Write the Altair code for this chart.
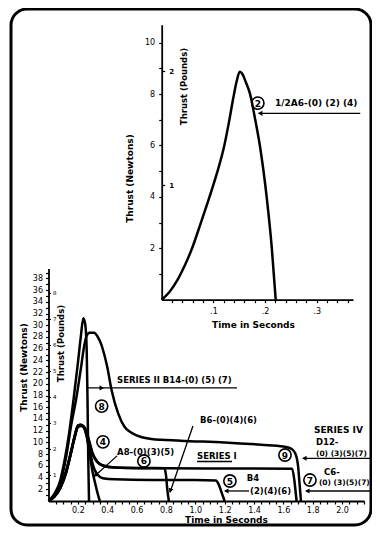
import altair as alt
import pandas as pd

LB = 4.448  # newtons per pound
FONT = "DejaVu Sans"

# ---------------- top chart: 1/2A6 ----------------
a6_t = [0, 0.015, 0.03, 0.045, 0.058, 0.075, 0.092, 0.108, 0.12, 0.13, 0.138, 0.145, 0.151,
        0.157, 0.163, 0.171, 0.18, 0.19, 0.203, 0.213, 0.2205]
a6_n = [0, 0.3, 0.75, 1.35, 1.96, 2.95, 3.97, 5.0, 5.9, 6.9, 7.8, 8.5, 8.87,
        8.75, 8.45, 8.0, 7.1, 5.98, 4.0, 2.0, 0]

# ---------------- bottom chart ----------------
b14_t = [0, 0.04, 0.08, 0.11, 0.14, 0.17, 0.2, 0.22, 0.237, 0.25, 0.26, 0.266, 0.271, 0.276]
b14_n = [0, 1.2, 3.5, 7, 11.5, 17.2, 23.5, 28, 31.2, 30.2, 26, 17, 7, 0]

d12_t = [0, 0.04, 0.08, 0.12, 0.155, 0.187, 0.22, 0.24, 0.26, 0.28, 0.31, 0.34, 0.36, 0.38,
         0.4, 0.43, 0.475, 0.52, 0.555, 0.6, 0.7, 0.9, 1.2, 1.45, 1.6, 1.65, 1.68, 1.7, 1.71, 1.72]
d12_n = [0, 1.0, 3.0, 7.5, 13, 17.2, 22.5, 26.0, 28.2, 28.7, 28.7, 27.8, 26.7, 25,
         22.9, 18.9, 14.9, 12.6, 11.8, 11.2, 10.6, 10.3, 10.0, 9.6, 9.3, 9.0, 8.2, 6, 3, 0]

a8_t = [0, 0.04, 0.08, 0.12, 0.15, 0.18, 0.2, 0.22, 0.24, 0.26, 0.28, 0.3, 0.32, 0.34, 0.35]
a8_n = [0, 0.8, 2.3, 5.0, 8.0, 11.2, 12.8, 13.0, 12.6, 11.0, 8.0, 5.0, 2.8, 0.8, 0]

b4_t = [0, 0.04, 0.08, 0.12, 0.15, 0.18, 0.2, 0.22, 0.24, 0.26, 0.28, 0.3, 0.33, 0.37, 0.45,
        0.7, 1.0, 1.14, 1.16, 1.18, 1.2]
b4_n = [0, 0.8, 2.2, 4.8, 7.8, 11.0, 12.6, 12.8, 12.6, 11.2, 8.8, 6.4, 4.6, 3.9, 3.7,
        3.6, 3.6, 3.5, 2.8, 1.4, 0]

b6_t = [0, 0.04, 0.08, 0.12, 0.15, 0.18, 0.2, 0.22, 0.24, 0.26, 0.28, 0.3, 0.33, 0.37, 0.45,
        0.6, 0.79, 0.8, 0.81, 0.82]
b6_n = [0, 0.8, 2.4, 5.1, 8.1, 11.3, 12.9, 13.0, 12.7, 11.6, 9.8, 8.0, 6.7, 6.0, 5.7,
        5.6, 5.6, 4.5, 1.8, 0]

c6_t = [0, 0.04, 0.08, 0.12, 0.15, 0.18, 0.2, 0.22, 0.24, 0.26, 0.28, 0.3, 0.33, 0.37, 0.45,
        0.8, 1.2, 1.66, 1.675, 1.685, 1.69]
c6_n = [0, 0.7, 2.2, 4.9, 7.9, 11.1, 12.7, 12.9, 12.7, 11.8, 10, 8.2, 6.8, 6.1, 5.7,
        5.6, 5.55, 5.5, 3.5, 1.2, 0]

# annotations (data coordinates)
top_text = ["1/2A6-(0) (2) (4)"]
top_text_t = [0.219]
top_text_n = [7.65]
top_circ = ["2"]
top_circ_t = [0.186]
top_circ_n = [7.65]

bot_text = ["SERIES II B14-(0) (5) (7)", "A8-(0)(3)(5)", "B6-(0)(4)(6)", "SERIES I",
            "B4", "(2)(4)(6)", "D12-", "C6-"]
bot_text_t = [0.467, 0.467, 1.032, 1.012, 1.35, 1.373, 1.822, 1.877]
bot_text_n = [20.65, 8.36, 13.8, 7.68, 3.87, 1.71, 10.07, 4.9]

side_text = ["SERIES IV", "(0) (3)(5)(7)", "(0) (3)(5)(7)"]
side_text_t = [1.808, 1.822, 1.842]
side_text_n = [12.1, 8.1, 3.1]

bot_circ = ["8", "4", "6", "9", "7", "5"]
bot_circ_t = [0.362, 0.371, 0.65, 1.611, 1.781, 1.236]
bot_circ_n = [16.2, 10.1, 6.83, 7.85, 3.58, 3.41]

# leader lines
top_lead = dict(t1=[0.187], t2=[0.384], n1=[7.25], n2=[7.25])
bot_lead = dict(t1=[0.269, 0.467, 0.984, 1.012, 1.734, 1.754, 1.202],
                t2=[1.284, 0.317, 0.828, 1.25, 2.197, 2.197, 1.366],
                n1=[19.3, 7.7, 12.8, 6.74, 7.29, 1.71, 1.71],
                n2=[19.3, 4.3, 1.5, 6.74, 7.29, 1.71, 1.71])
top_head = dict(t=[0.192], n=[7.25], ang=[270])
bot_head = dict(t=[0.358, 0.322, 0.832, 1.748, 1.768, 1.216],
                n=[19.3, 4.45, 1.9, 7.29, 1.71, 1.71],
                ang=[90, 228, 199, 270, 270, 270])

# ---------------- scales ----------------
W, H = 360, 516
top_xs = alt.Scale(domain=[0, 0.37], range=[150.7, 342.0], nice=False, zero=False)
top_ys = alt.Scale(domain=[0, 10.7], range=[290.7, 15.7], nice=False, zero=False)
bot_xs = alt.Scale(domain=[0, 2.15], range=[37.5, 353.1], nice=False, zero=False)
bot_ys = alt.Scale(domain=[0, 39.7], range=[492.0, 259.4], nice=False, zero=False)

common = dict(labelFont=FONT, titleFont=FONT, labelColor="black", titleColor="black",
              domainColor="black", tickColor="black", grid=False, labelOverlap=False,
              labelFlush=False, titleFontWeight="bold", titleAlign="center",
              titleBaseline="middle")

top_x_axis = alt.Axis(orient="bottom", offset=-(H - 290.7),
                      values=[round(0.02 * i, 2) for i in range(1, 19)],
                      labelExpr="abs(datum.value*10 - round(datum.value*10)) < 0.001 ? '.' + round(datum.value*10) : ''",
                      title="Time in Seconds", titleX=242, titleY=24.3, titleFontSize=9,
                      labelFontSize=8, labelPadding=5, tickSize=3, tickWidth=1.2,
                      domainWidth=1.8, **common)
top_y_axis = alt.Axis(orient="left", offset=-150.7, values=list(range(1, 11)),
                      labelExpr="datum.value % 2 == 0 ? '' + datum.value : ''",
                      title="Thrust (Newtons)", titleAngle=270, titleX=-32.7, titleY=169,
                      titleFontSize=9, labelFontSize=8, labelPadding=4, tickSize=3,
                      tickWidth=1.2, domainWidth=1.8, **common)
top_lb_axis = alt.Axis(orient="right", offset=-(W - 150.7), values=[LB, 2 * LB],
                       labelExpr="'' + round(datum.value/4.448)", domain=False,
                       title="Thrust (Pounds)", titleAngle=270, titleX=21.6, titleY=77,
                       titleFontSize=8.5, labelFontSize=7, labelFontWeight="bold",
                       labelPadding=4, tickSize=3, tickWidth=1.2, **common)

bot_x_axis = alt.Axis(orient="bottom", offset=-(H - 492.0),
                      values=[round(0.05 * i, 2) for i in range(1, 44)],
                      labelExpr="abs(datum.value*5 - round(datum.value*5)) < 0.001 ? format(datum.value, '.1f') : ''",
                      title="Time in Seconds", titleX=215, titleY=18, titleFontSize=9,
                      labelFontSize=8, labelPadding=2, tickSize=3, tickWidth=1.2,
                      domainWidth=1.8, **common)
bot_y_axis = alt.Axis(orient="left", offset=-37.5, values=list(range(1, 40)),
                      labelExpr="datum.value % 2 == 0 ? '' + datum.value : ''",
                      title="Thrust (Newtons)", titleAngle=270, titleX=-25.5, titleY=358,
                      titleFontSize=9, labelFontSize=8, labelPadding=3, tickSize=3,
                      tickWidth=1.2, domainWidth=1.8, **common)
bot_lb_axis = alt.Axis(orient="right", offset=-(W - 37.5), values=[LB * k for k in range(1, 9)],
                       labelExpr="'' + round(datum.value/4.448)", domain=False,
                       title="Thrust (Pounds)", titleAngle=270, titleX=11.5, titleY=334,
                       titleFontSize=8.5, labelFontSize=5.5, labelPadding=2, tickSize=2,
                       tickWidth=1, **common)


def curves(names, ts, ns):
    rows = []
    for name, t, n in zip(names, ts, ns):
        for i, (a, b) in enumerate(zip(t, n)):
            rows.append({"motor": name, "t": a, "n": b, "i": i})
    return pd.DataFrame(rows)


def build(curve_df, xs, ys, xaxis, yaxis, lbaxis, lbvals, texts, side, circs, leads, heads):
    line = alt.Chart(curve_df).mark_line(color="black", strokeWidth=2.5, interpolate="monotone").encode(
        x=alt.X("t:Q", scale=xs, axis=xaxis),
        y=alt.Y("n:Q", scale=ys, axis=yaxis),
        detail="motor:N", order="i:Q")
    lbl = alt.Chart(pd.DataFrame({"n": lbvals})).mark_point(opacity=0).encode(
        y=alt.Y("n:Q", scale=ys, axis=lbaxis))
    X = lambda f: alt.X(f, scale=xs, axis=None)
    Y = lambda f: alt.Y(f, scale=ys, axis=None)
    layers = [line, lbl]
    layers.append(alt.Chart(pd.DataFrame(leads)).mark_rule(color="black", strokeWidth=1.3).encode(
        x=X("t1:Q"), x2="t2:Q", y=Y("n1:Q"), y2="n2:Q"))
    layers.append(alt.Chart(pd.DataFrame(heads)).mark_point(shape="triangle", filled=True, color="black",
                                                             size=26, opacity=1).encode(
        x=X("t:Q"), y=Y("n:Q"), angle=alt.Angle("ang:Q", scale=None)))
    txt_df, txt_size = texts
    layers.append(alt.Chart(txt_df).mark_text(align="left", baseline="middle", font=FONT,
                                              fontWeight="bold", fontSize=txt_size, color="black").encode(
        x=X("t:Q"), y=Y("n:Q"), text="label:N"))
    if side is not None:
        sdf = side
        layers.append(alt.Chart(sdf.iloc[:1]).mark_text(align="left", baseline="middle", font=FONT,
                                                        fontWeight="bold", fontSize=9, color="black").encode(
            x=X("t:Q"), y=Y("n:Q"), text="label:N"))
        layers.append(alt.Chart(sdf.iloc[1:]).mark_text(align="left", baseline="middle", font=FONT,
                                                        fontWeight="bold", fontSize=7.5, color="black").encode(
            x=X("t:Q"), y=Y("n:Q"), text="label:N"))
    layers.append(alt.Chart(circs).mark_point(shape="circle", size=150, filled=False, color="black",
                                              strokeWidth=1.6, opacity=1).encode(x=X("t:Q"), y=Y("n:Q")))
    layers.append(alt.Chart(circs).mark_text(align="center", baseline="middle", font=FONT, fontWeight="bold",
                                             fontSize=9, color="black", dy=0.5).encode(
        x=X("t:Q"), y=Y("n:Q"), text="label:N"))
    return alt.layer(*layers).resolve_axis(x="independent", y="independent")


top = build(curves(["1/2A6"], [a6_t], [a6_n]), top_xs, top_ys, top_x_axis, top_y_axis, top_lb_axis,
            [LB, 2 * LB],
            (pd.DataFrame({"label": top_text, "t": top_text_t, "n": top_text_n}), 9),
            None,
            pd.DataFrame({"label": top_circ, "t": top_circ_t, "n": top_circ_n}),
            top_lead, top_head)

bottom = build(curves(["B14", "D12", "A8", "B4", "B6", "C6"],
                      [b14_t, d12_t, a8_t, b4_t, b6_t, c6_t],
                      [b14_n, d12_n, a8_n, b4_n, b6_n, c6_n]),
               bot_xs, bot_ys, bot_x_axis, bot_y_axis, bot_lb_axis, [LB * k for k in range(1, 9)],
               (pd.DataFrame({"label": bot_text, "t": bot_text_t, "n": bot_text_n}), 8.5),
               pd.DataFrame({"label": side_text, "t": side_text_t, "n": side_text_n}),
               pd.DataFrame({"label": bot_circ, "t": bot_circ_t, "n": bot_circ_n}),
               bot_lead, bot_head)

chart = alt.layer(top, bottom).resolve_scale(x="independent", y="independent").properties(
    width=W, height=H,
    autosize=alt.AutoSizeParams(type="none"),
    padding={"left": 3, "top": 1, "right": 1, "bottom": 2},
    background="white",
).configure_view(stroke="black", strokeWidth=3, cornerRadius=16, fill="white")

chart.save("out.html", embed_options={"renderer": "svg", "actions": False})
